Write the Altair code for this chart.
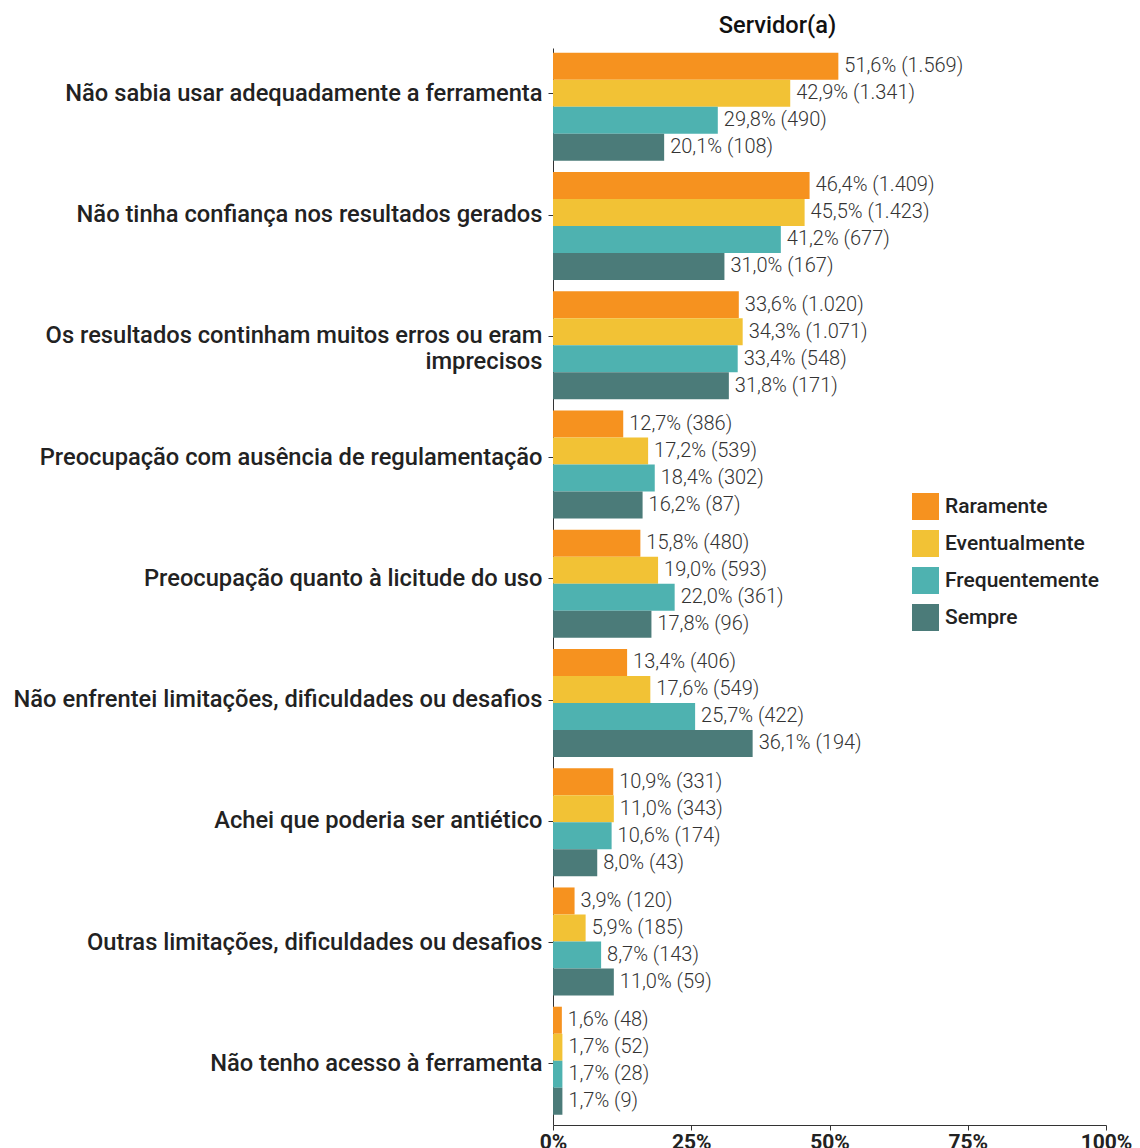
import altair as alt
import pandas as pd

categories = [
    "Não sabia usar adequadamente a ferramenta",
    "Não tinha confiança nos resultados gerados",
    "Os resultados continham muitos erros ou eram imprecisos",
    "Preocupação com ausência de regulamentação",
    "Preocupação quanto à licitude do uso",
    "Não enfrentei limitações, dificuldades ou desafios",
    "Achei que poderia ser antiético",
    "Outras limitações, dificuldades ou desafios",
    "Não tenho acesso à ferramenta",
]
series = ["Raramente", "Eventualmente", "Frequentemente", "Sempre"]

pct_raramente = [51.6, 46.4, 33.6, 12.7, 15.8, 13.4, 10.9, 3.9, 1.6]
pct_eventualmente = [42.9, 45.5, 34.3, 17.2, 19.0, 17.6, 11.0, 5.9, 1.7]
pct_frequentemente = [29.8, 41.2, 33.4, 18.4, 22.0, 25.7, 10.6, 8.7, 1.7]
pct_sempre = [20.1, 31.0, 31.8, 16.2, 17.8, 36.1, 8.0, 11.0, 1.7]

n_raramente = [1569, 1409, 1020, 386, 480, 406, 331, 120, 48]
n_eventualmente = [1341, 1423, 1071, 539, 593, 549, 343, 185, 52]
n_frequentemente = [490, 677, 548, 302, 361, 422, 174, 143, 28]
n_sempre = [108, 167, 171, 87, 96, 194, 43, 59, 9]

colors = ["#F6921F", "#F2C235", "#4EB2B0", "#4B7B79"]
x_ticks = [0, 25, 50, 75, 100]

pcts = [pct_raramente, pct_eventualmente, pct_frequentemente, pct_sempre]
counts = [n_raramente, n_eventualmente, n_frequentemente, n_sempre]

rows = []
for s, plist, nlist in zip(series, pcts, counts):
    for c, p, n in zip(categories, plist, nlist):
        lab = f"{p:.1f}".replace(".", ",") + "% (" + f"{n:,}".replace(",", ".") + ")"
        rows.append({"cat": c, "serie": s, "pct": p, "label": lab})
df = pd.DataFrame(rows)
df_cats = pd.DataFrame({"cat": categories})

FONT = "Roboto"
W, H = 553, 1077

band_scale = alt.Scale(paddingInner=0.094, paddingOuter=0.0627, align=0.315)

x_enc = alt.X(
    "pct:Q",
    title=None,
    scale=alt.Scale(domain=[0, 100], nice=False),
    axis=alt.Axis(
        values=x_ticks,
        labelExpr="datum.value + '%'",
        labelFontSize=21,
        labelFont=FONT,
        labelFontWeight="bold",
        labelColor="#222222",
        labelPadding=1,
        tickSize=5,
        tickColor="#333333",
        domainColor="#333333",
        grid=False,
        labelFlush=False,
    ),
)

bars = alt.Chart(df).mark_bar().encode(
    y=alt.Y(
        "cat:N",
        sort=categories,
        title=None,
        scale=band_scale,
        axis=alt.Axis(orient="left", labels=False, ticks=False, domainColor="#333333", title=None),
    ),
    yOffset=alt.YOffset("serie:N", sort=series, scale=alt.Scale(paddingInner=0, paddingOuter=0)),
    x=x_enc,
    color=alt.Color(
        "serie:N",
        sort=series,
        scale=alt.Scale(domain=series, range=colors),
        legend=alt.Legend(
            title=None,
            orient="none",
            legendX=359,
            legendY=445,
            symbolType="square",
            symbolSize=729,
            symbolStrokeWidth=0,
            symbolOpacity=1,
            labelFontSize=21,
            labelFont=FONT,
            labelFontWeight=500,
            labelColor="#222222",
            rowPadding=10,
            labelOffset=6,
        ),
    ),
)

texts = alt.Chart(df).mark_text(
    align="left", baseline="middle", dx=6, fontSize=20, font=FONT, fontWeight=300, color="#333333"
).encode(
    y=alt.Y("cat:N", sort=categories, scale=band_scale, axis=None),
    yOffset=alt.YOffset("serie:N", sort=series, scale=alt.Scale(paddingInner=0, paddingOuter=0)),
    x=alt.X("pct:Q"),
    text="label:N",
)

axis_layer = alt.Chart(df_cats).mark_point(opacity=0, size=0).encode(
    y=alt.Y(
        "cat:N",
        sort=categories,
        title=None,
        scale=alt.Scale(type="point", range=[45.3, 1015.3], padding=0),
        axis=alt.Axis(
            orient="left",
            domain=False,
            labelFontSize=23.7,
            labelFont=FONT,
            labelFontWeight=500,
            labelColor="#222222",
            labelLimit=700,
            labelPadding=6,
            tickSize=5,
            tickColor="#333333",
            labelExpr="datum.label == 'Os resultados continham muitos erros ou eram imprecisos' ? ['Os resultados continham muitos erros ou eram', 'imprecisos'] : datum.label",
        ),
    ),
    x=alt.value(0),
)

chart = (
    alt.layer(bars, texts, axis_layer)
    .resolve_scale(y="independent")
    .properties(
        width=W,
        height=H,
        autosize=alt.AutoSizeParams(type="none"),
        padding={"left": 545, "top": 40, "right": 26, "bottom": 40},
        title=alt.TitleParams(
            "Servidor(a)", fontSize=23.6, font=FONT, fontWeight=500, color="#111111",
            anchor="middle", dx=-52, offset=10,
        ),
    )
    .configure_view(stroke=None)
)

chart.save("out.html", embed_options={"renderer": "svg", "actions": False})
